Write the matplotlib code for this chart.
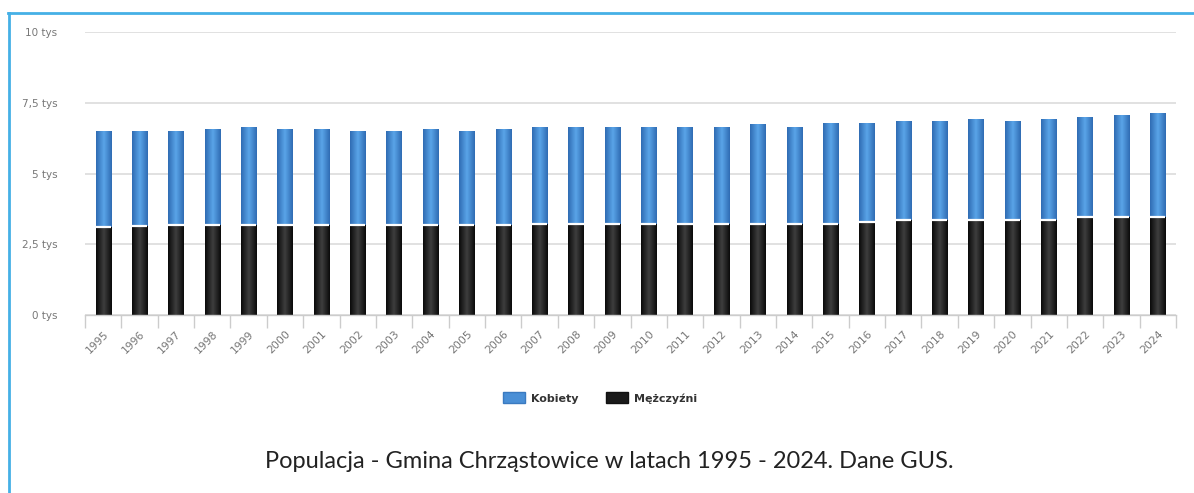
import matplotlib
matplotlib.use("Agg")
import matplotlib.pyplot as plt
import numpy as np
from matplotlib.colors import LinearSegmentedColormap
from matplotlib.patches import Patch
from matplotlib.lines import Line2D

years = [str(y) for y in range(1995, 2025)]
men = [3120, 3130, 3180, 3180, 3180, 3180, 3180, 3180, 3180, 3180,
       3180, 3180, 3200, 3200, 3200, 3200, 3200, 3200, 3200, 3200,
       3200, 3290, 3360, 3360, 3360, 3360, 3360, 3470, 3470, 3470]
women = [3380, 3370, 3320, 3390, 3470, 3390, 3390, 3320, 3320, 3390,
         3320, 3390, 3450, 3450, 3450, 3450, 3450, 3450, 3540, 3450,
         3570, 3480, 3510, 3510, 3570, 3510, 3570, 3540, 3600, 3680]
series_names = ["Kobiety", "Mężczyźni"]
ytick_vals = [0, 2500, 5000, 7500, 10000]
ytick_labels = ["0 tys", "2,5 tys", "5 tys", "7,5 tys", "10 tys"]
title = "Populacja - Gmina Chrząstowice w latach 1995 - 2024. Dane GUS."

W, H = 1194, 493
fig = plt.figure(figsize=(W / 100, H / 100), dpi=100)
fig.patch.set_facecolor("white")
ax = fig.add_axes([85 / W, 1 - 315 / H, (1176 - 85) / W, (315 - 32) / H])

x = np.arange(len(years))
bw = 0.42
blue_cmap = LinearSegmentedColormap.from_list("b", ["#2f6cb3", "#5aa4e8", "#2f6cb3"])
black_cmap = LinearSegmentedColormap.from_list("k", ["#0a0a0a", "#3e3e3e", "#0a0a0a"])
grad = np.linspace(0, 1, 64).reshape(1, -1)

bars_m = ax.bar(x, men, width=bw, color="#1c1c1c", zorder=2, linewidth=0)
bars_w = ax.bar(x, women, width=bw, bottom=men, color="#4a8fd6", zorder=2, linewidth=0)

for bars, cmap in ((bars_m, black_cmap), (bars_w, blue_cmap)):
    for r in bars:
        x0, y0 = r.get_x(), r.get_y()
        im = ax.imshow(grad, cmap=cmap, aspect="auto", zorder=2.1,
                       extent=(x0, x0 + r.get_width(), y0, y0 + r.get_height()))
        im.set_clip_path(r)

ax.hlines(men, x - bw / 2, x + bw / 2, colors="white", linewidth=1.6, zorder=3)

ax.set_xlim(-0.5, len(years) - 0.5)
ax.set_ylim(0, 10000)
ax.set_yticks(ytick_vals)
ax.set_yticklabels(ytick_labels, fontsize=7.5, color="#777777")
ax.tick_params(axis="y", length=0, pad=20)
ax.yaxis.grid(True, color="#dcdcdc", linewidth=1.2, zorder=0)
ax.set_axisbelow(True)

ax.set_xticks(x)
ax.set_xticklabels(years, rotation=45, ha="right", rotation_mode="anchor",
                   fontsize=7.8, color="#777777")
ax.tick_params(axis="x", length=0, pad=10)
ax.set_xticks(np.arange(len(years) + 1) - 0.5, minor=True)
ax.tick_params(axis="x", which="minor", length=9, color="#cccccc", width=1)

for s in ("top", "right", "left"):
    ax.spines[s].set_visible(False)
ax.spines["bottom"].set_color("#cccccc")
ax.spines["bottom"].set_linewidth(1)

handles = [Patch(facecolor="#4a8fd6", edgecolor="#3a7ac0"),
           Patch(facecolor="#1a1a1a", edgecolor="#111111")]
leg = fig.legend(handles, series_names, loc="center", bbox_to_anchor=(600 / W, 1 - 398 / H),
                 ncol=2, frameon=False, fontsize=8, handlelength=2.0, handleheight=1.1,
                 columnspacing=2.5, handletextpad=0.5)
for t in leg.get_texts():
    t.set_color("#333333")
    t.set_fontweight("semibold")

fig.text(609 / W, 1 - 461 / H, title, ha="center", va="center", fontsize=17,
         color="#222222", family="Lato")

fig.add_artist(Line2D([8 / W, 1], [1 - 12.5 / H, 1 - 12.5 / H], color="#45b0e6",
                      linewidth=2, transform=fig.transFigure))
fig.add_artist(Line2D([8.5 / W, 8.5 / W], [0, 1 - 12.5 / H], color="#45b0e6",
                      linewidth=2, transform=fig.transFigure))

fig.savefig("out.png", dpi=100)
